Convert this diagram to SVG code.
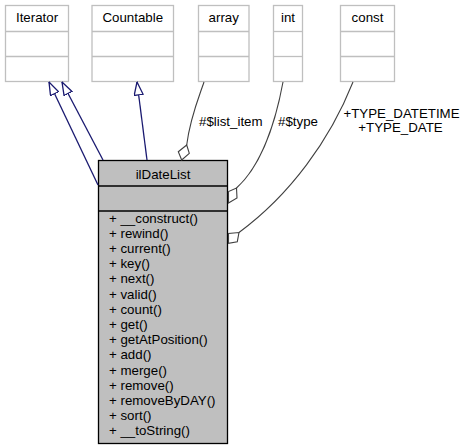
<svg xmlns="http://www.w3.org/2000/svg" width="467" height="448" viewBox="0 0 467 448">
<style>
  text { font-family: "Liberation Sans", Arial, sans-serif; font-size: 13.3px; fill: #000; }
  .c { text-anchor: middle; }
  .ext rect { fill: #fff; stroke: #bfbfbf; stroke-width: 1.3; }
  .ext line { stroke: #bfbfbf; stroke-width: 1.3; }
  .main rect { fill: #bfbfbf; stroke: #000; stroke-width: 1.3; }
  .main line { stroke: #000; stroke-width: 1.3; }
  .inh { fill: none; stroke: #191970; stroke-width: 1.3; marker-end: url(#tri); }
  .agg { fill: none; stroke: #404040; stroke-width: 1.1; }
  .diamond { fill: #fff; stroke: #404040; stroke-width: 1.1; }
</style>
<defs>
  <marker id="tri" markerUnits="userSpaceOnUse" viewBox="0 0 14 10" refX="13.5" refY="5" markerWidth="14" markerHeight="10" orient="auto">
    <path d="M0.5,0.5 L13.5,5 L0.5,9.5 Z" fill="#fff" stroke="#191970" stroke-width="1.3"/>
  </marker>
</defs>

<g id="node-Iterator" class="ext">
  <rect x="5.5" y="5.5" width="63" height="76"/>
  <line x1="5.5" y1="31.5" x2="68.5" y2="31.5"/>
  <line x1="5.5" y1="56.5" x2="68.5" y2="56.5"/>
  <text class="c" x="37" y="22">Iterator</text>
</g>
<g id="node-Countable" class="ext">
  <rect x="92" y="5.5" width="81.5" height="76"/>
  <line x1="92" y1="31.5" x2="173.5" y2="31.5"/>
  <line x1="92" y1="56.5" x2="173.5" y2="56.5"/>
  <text class="c" x="132.75" y="22">Countable</text>
</g>
<g id="node-array" class="ext">
  <rect x="198.5" y="5.5" width="50.5" height="76"/>
  <line x1="198.5" y1="31.5" x2="249" y2="31.5"/>
  <line x1="198.5" y1="56.5" x2="249" y2="56.5"/>
  <text class="c" x="223.75" y="22">array</text>
</g>
<g id="node-int" class="ext">
  <rect x="273.5" y="5.5" width="29" height="76"/>
  <line x1="273.5" y1="31.5" x2="302.5" y2="31.5"/>
  <line x1="273.5" y1="56.5" x2="302.5" y2="56.5"/>
  <text class="c" x="288" y="22">int</text>
</g>
<g id="node-const" class="ext">
  <rect x="340.5" y="5.5" width="54" height="76"/>
  <line x1="340.5" y1="31.5" x2="394.5" y2="31.5"/>
  <line x1="340.5" y1="56.5" x2="394.5" y2="56.5"/>
  <text class="c" x="367.5" y="22">const</text>
</g>

<g id="node-ilDateList" class="main">
  <rect x="98.5" y="160.5" width="129" height="283"/>
  <line x1="98.5" y1="186" x2="227.5" y2="186"/>
  <line x1="98.5" y1="211" x2="227.5" y2="211"/>
  <text class="c" x="163" y="178.5">ilDateList</text>
  <text x="109" y="222.5">+ __construct()</text>
  <text x="109" y="237.7">+ rewind()</text>
  <text x="109" y="252.9">+ current()</text>
  <text x="109" y="268.1">+ key()</text>
  <text x="109" y="283.3">+ next()</text>
  <text x="109" y="298.5">+ valid()</text>
  <text x="109" y="313.7">+ count()</text>
  <text x="109" y="328.9">+ get()</text>
  <text x="109" y="344.1">+ getAtPosition()</text>
  <text x="109" y="359.3">+ add()</text>
  <text x="109" y="374.5">+ merge()</text>
  <text x="109" y="389.7">+ remove()</text>
  <text x="109" y="404.9">+ removeByDAY()</text>
  <text x="109" y="420.1">+ sort()</text>
  <text x="109" y="435.3">+ __toString()</text>
</g>

<g id="connectors">
  <path class="inh" d="M98,185 L49,82"/>
  <path class="inh" d="M103,160 L62,82"/>
  <path class="inh" d="M147,160 L137,82"/>

  <path class="agg" d="M204,82 C199,97 190,118 186.7,145"/>
  <polygon class="diamond" points="186.7,145 189.3,153.3 181.7,160 178.3,151.7"/>
  <text x="199" y="125.5">#$list_item</text>

  <path class="agg" d="M283,82 C276,120 262,165 236.5,188"/>
  <polygon class="diamond" points="236.5,188 237,198 228.5,203 228.5,191.5"/>
  <text x="278" y="125.5">#$type</text>

  <path class="agg" d="M353,82 C330,140 290,195 239,232.5"/>
  <polygon class="diamond" points="239,232.5 237.3,241.7 228.5,243.3 228.5,233.5"/>
  <text class="c" x="401.5" y="117.5">+TYPE_DATETIME</text>
  <text class="c" x="400.5" y="131.5">+TYPE_DATE</text>
</g>
</svg>
